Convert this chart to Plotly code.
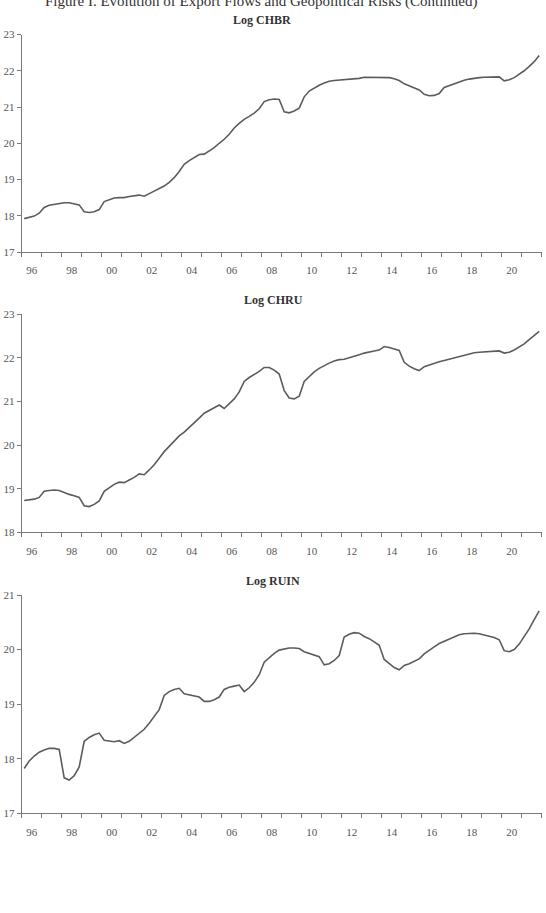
import plotly.graph_objects as go

# quarterly observations 1996Q1 .. 2021Q4
years = list(range(1996, 2022))
quarters = [1, 2, 3, 4]

log_chbr = [
    17.92, 17.95, 17.99, 18.07, 18.23, 18.29, 18.32, 18.35, 18.36, 18.36, 18.34, 18.30,
    18.11, 18.09, 18.11, 18.17, 18.39, 18.45, 18.49, 18.50, 18.50, 18.53, 18.55, 18.57,
    18.54, 18.60, 18.68, 18.75, 18.82, 18.92, 19.05, 19.22, 19.42, 19.52, 19.61, 19.69,
    19.70, 19.78, 19.88, 20.00, 20.11, 20.25, 20.42, 20.55, 20.66, 20.74, 20.83, 20.95,
    21.15, 21.20, 21.22, 21.21, 20.87, 20.84, 20.89, 20.97, 21.28, 21.44, 21.53, 21.60,
    21.66, 21.71, 21.73, 21.74, 21.74, 21.77, 21.78, 21.79, 21.82, 21.82, 21.83, 21.83,
    21.82, 21.81, 21.78, 21.73, 21.64, 21.58, 21.52, 21.47, 21.35, 21.31, 21.32, 21.37,
    21.54, 21.59, 21.65, 21.70, 21.74, 21.77, 21.80, 21.81, 21.82, 21.83, 21.83, 21.83,
    21.72, 21.75, 21.81, 21.90, 22.00, 22.12, 22.25, 22.42,
]

log_chru = [
    18.73, 18.74, 18.76, 18.80, 18.94, 18.96, 18.97, 18.96, 18.91, 18.87, 18.84, 18.80,
    18.61, 18.59, 18.64, 18.72, 18.94, 19.03, 19.10, 19.15, 19.14, 19.20, 19.26, 19.34,
    19.32, 19.43, 19.55, 19.70, 19.85, 19.97, 20.10, 20.21, 20.30, 20.40, 20.50, 20.62,
    20.73, 20.80, 20.87, 20.92, 20.84, 20.94, 21.06, 21.22, 21.46, 21.55, 21.62, 21.69,
    21.78, 21.78, 21.72, 21.63, 21.25, 21.08, 21.06, 21.12, 21.46, 21.58, 21.68, 21.76,
    21.83, 21.88, 21.93, 21.96, 21.97, 22.00, 22.03, 22.07, 22.11, 22.14, 22.16, 22.18,
    22.26, 22.24, 22.21, 22.17, 21.90, 21.81, 21.75, 21.71, 21.80, 21.84, 21.87, 21.91,
    21.94, 21.97, 22.01, 22.04, 22.07, 22.10, 22.12, 22.13, 22.14, 22.15, 22.15, 22.16,
    22.11, 22.13, 22.18, 22.25, 22.32, 22.42, 22.52, 22.61,
]

log_ruin = [
    17.82, 17.96, 18.05, 18.12, 18.16, 18.19, 18.19, 18.17, 17.65, 17.61, 17.69, 17.85,
    18.32, 18.39, 18.44, 18.47, 18.34, 18.32, 18.31, 18.33, 18.28, 18.32, 18.39, 18.46,
    18.54, 18.65, 18.77, 18.90, 19.16, 19.23, 19.27, 19.29, 19.19, 19.17, 19.15, 19.13,
    19.05, 19.05, 19.08, 19.13, 19.27, 19.31, 19.33, 19.35, 19.23, 19.30, 19.40, 19.54,
    19.77, 19.85, 19.93, 19.99, 20.01, 20.03, 20.03, 20.02, 19.96, 19.93, 19.90, 19.87,
    19.72, 19.74, 19.80, 19.89, 20.23, 20.28, 20.31, 20.30, 20.24, 20.20, 20.14, 20.08,
    19.82, 19.74, 19.67, 19.63, 19.71, 19.74, 19.78, 19.83, 19.92, 19.99, 20.05, 20.11,
    20.15, 20.20, 20.24, 20.27, 20.29, 20.30, 20.30, 20.29, 20.27, 20.25, 20.22, 20.18,
    19.98, 19.96, 20.00, 20.10, 20.23, 20.38, 20.55, 20.71,
]

panel_titles = ["Log CHBR", "Log CHRU", "Log RUIN"]
y_ranges = [[17, 23], [18, 23], [17, 21]]
x_tick_years = list(range(1996, 2021, 2))
x_tick_text = [f"{y % 100:02d}" for y in x_tick_years]
figure_title = "Figure I. Evolution of Export Flows and Geopolitical Risks (Continued)"

# time positions at mid-quarter
t = [y + (q - 0.5) / 4 for y in years for q in quarters]

W, H = 546, 913
def py(px):
    return 1 - px / H

x_dom = [21.7 / W, 541.7 / W]
y_doms = [[py(252), py(34.5)], [py(532.3), py(314.3)], [py(813.3), py(595)]]
title_y = [20, 300, 581]
title_x = [262, 273, 273]

fig = go.Figure()
series = [log_chbr, log_chru, log_ruin]
font_family = "Liberation Serif, DejaVu Serif, serif"
axis_col = "#7a7a7a"
txt_col = "#555555"

for i, s in enumerate(series):
    n = "" if i == 0 else str(i + 1)
    fig.add_trace(go.Scatter(x=t, y=s, mode="lines",
                             line=dict(color="#5c5c5c", width=1.6),
                             xaxis="x" + n, yaxis="y" + n, showlegend=False,
                             hoverinfo="skip"))
    fig.layout["xaxis" + n] = dict(
        domain=x_dom, anchor="y" + n, range=[1996, 2022],
        tickmode="array", tickvals=[y + 0.5 for y in x_tick_years], ticktext=x_tick_text,
        ticks="outside", ticklen=8, tickcolor="rgba(0,0,0,0)",
        minor=dict(tickmode="array", tickvals=list(range(1996, 2023)),
                   ticks="outside", ticklen=4, tickcolor=axis_col, tickwidth=1,
                   showgrid=False),
        showline=True, linecolor=axis_col, linewidth=1, showgrid=False, zeroline=False,
        tickfont=dict(family=font_family, size=11, color=txt_col), automargin=False,
        fixedrange=True,
    )
    fig.layout["yaxis" + n] = dict(
        domain=y_doms[i], anchor="x" + n, range=y_ranges[i], dtick=1,
        ticks="outside", ticklen=4, tickcolor=axis_col,
        showline=True, linecolor=axis_col, linewidth=1, showgrid=False, zeroline=False,
        tickfont=dict(family=font_family, size=11, color=txt_col), automargin=False,
        fixedrange=True,
    )
    fig.add_annotation(text="<b>" + panel_titles[i] + "</b>", xref="paper", yref="paper",
                       x=title_x[i] / W, y=py(title_y[i]), xanchor="center", yanchor="middle",
                       showarrow=False,
                       font=dict(family=font_family, size=12, color="#333333"))

fig.add_annotation(text=figure_title, xref="paper", yref="paper",
                   x=261 / W, y=py(1), xanchor="center", yanchor="middle",
                   showarrow=False,
                   font=dict(family=font_family, size=15, color="#333333"))

fig.update_layout(width=W, height=H, margin=dict(l=0, r=0, t=0, b=0),
                  paper_bgcolor="white", plot_bgcolor="white")

fig.write_html("out.html")
